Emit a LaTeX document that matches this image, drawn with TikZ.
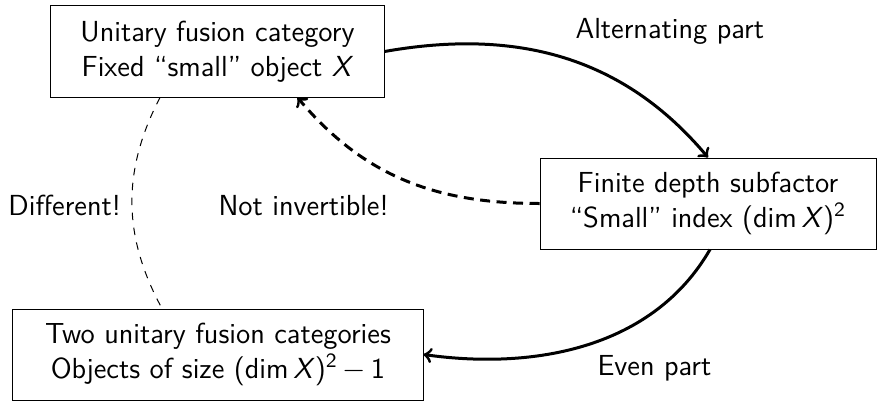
\documentclass[tikz,border=0pt]{standalone}
\begin{document}
\begin{tikzpicture}[x=0.4pt,y=0.4pt,
  every node/.style={font=\sffamily\fontsize{11.6}{14.2}\selectfont},
  catbox/.style={draw, line width=0.4pt, align=center, inner sep=0pt, minimum height=36.4pt},
  lbl/.style={anchor=base west, inner sep=0pt},
  mainarrow/.style={->, line width=1.2pt},
  backarrow/.style={->, line width=1.2pt, dash pattern=on 4pt off 2.6pt},
  diffline/.style={line width=0.4pt, dashed}]
\useasboundingbox (0,0) rectangle (877,-400);
\node[catbox, minimum width=133.2pt] (ufc) at (217.5,-51.5) {Unitary fusion category\\Fixed ``small'' object \textit{X}};
\node[catbox, minimum width=134.4pt] (sub) at (708,-203.5) {Finite depth subfactor\\``Small'' index (dim\,\textit{X})\textsuperscript{2}};
\node[catbox, minimum width=164pt] (two) at (218,-354.5) {Two unitary fusion categories\\Objects of size (dim\,\textit{X})\textsuperscript{2}\,$-$\,1};
\node[lbl] (alt) at (575,-38) {Alternating part};
\node[lbl] (noti) at (218,-215) {Not invertible!};
\node[lbl] (diff) at (8,-215) {Different!};
\node[lbl] (even) at (597,-375) {Even part};
\draw[mainarrow] (ufc.east) to[out=10, in=130] (sub.north);
\draw[mainarrow] ([xshift=0.8pt]sub.south) to[out=-120, in=-8, looseness=0.95] (two.east);
\draw[backarrow] (sub.west) to[out=180, in=-50] ([xshift=32pt]ufc.south);
\draw[diffline] ([xshift=-23pt]ufc.south) to[bend right=28] ([xshift=-22.4pt]two.north);
\end{tikzpicture}
\end{document}
